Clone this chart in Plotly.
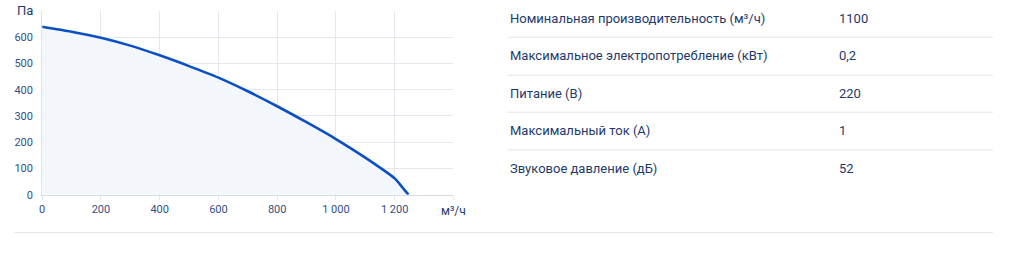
import plotly.graph_objects as go

# Curve data (flow m³/h vs pressure Pa)
flow = [0, 100, 200, 300, 400, 500, 600, 700, 800, 900, 1000, 1100, 1200, 1225, 1247]
pressure = [640, 621, 598, 568, 531, 490, 446, 394, 337, 276, 212, 141, 62, 30, 0]

x_tickvals = [0, 200, 400, 600, 800, 1000, 1200, 1400]
x_ticktext = ["0", "200", "400", "600", "800", "1 000", "1 200", ""]
y_tickvals = [0, 100, 200, 300, 400, 500, 600, 700]
y_ticktext = ["0", "100", "200", "300", "400", "500", "600", ""]
x_unit = "м³/ч"
y_unit = "Па"

spec_labels = [
    "Номинальная производительность (м³/ч)",
    "Максимальное электропотребление (кВт)",
    "Питание (В)",
    "Максимальный ток (А)",
    "Звуковое давление (дБ)",
]
spec_values = ["1100", "0,2", "220", "1", "52"]

W, H = 1020, 262
TEXT = "#1e3a6b"
TICK = "#34507f"
GRID = "#e7e8ee"

def px_x(p):
    return p / W

def px_y(p):
    return 1 - p / H

fig = go.Figure()
fig.add_trace(go.Scatter(
    x=flow, y=pressure, mode="lines",
    line=dict(color="#0b4fc6", width=2.6, shape="spline", smoothing=0.7),
    fill="tozeroy", fillcolor="#f3f6fb",
    hoverinfo="skip", showlegend=False,
))

fig.update_layout(
    width=W, height=H,
    margin=dict(l=0, r=0, t=0, b=0),
    paper_bgcolor="white", plot_bgcolor="white",
    font=dict(family="Roboto", color=TEXT),
    xaxis=dict(
        domain=[px_x(39.3), px_x(451.7)], range=[0, 1400],
        tickvals=x_tickvals, ticktext=x_ticktext,
        showgrid=True, gridcolor=GRID, gridwidth=1,
        zeroline=False, showline=True, linecolor="#d9dbe3", linewidth=1,
        ticks="outside", ticklen=4, tickcolor=GRID,
        tickfont=dict(size=11, color=TICK, family="Roboto"),
        fixedrange=True,
    ),
    yaxis=dict(
        domain=[px_y(200), px_y(11.3)], range=[0, 700],
        tickvals=y_tickvals, ticktext=y_ticktext,
        showgrid=True, gridcolor=GRID, gridwidth=1,
        zeroline=False, showline=True, linecolor="#dfe1e8", linewidth=1,
        ticks="", ticklabelstandoff=6,
        tickfont=dict(size=11, color=TICK, family="Roboto"),
        fixedrange=True,
    ),
)

annotations = []
annotations.append(dict(
    text=y_unit, xref="paper", yref="paper", x=px_x(32), y=px_y(11),
    xanchor="right", yanchor="middle", showarrow=False,
    font=dict(size=13, color=TEXT, family="Roboto"),
))
annotations.append(dict(
    text=x_unit, xref="paper", yref="paper", x=px_x(451.5), y=px_y(216.5),
    xanchor="center", yanchor="middle", showarrow=False,
    font=dict(size=12, color=TEXT, family="Roboto"),
))

shapes = []
row_y = [19, 57.3, 95.7, 134.5, 172.7]
sep_y = [38.3, 77.3, 115.3, 154]
for lab, val, yy in zip(spec_labels, spec_values, row_y):
    annotations.append(dict(
        text=lab, xref="paper", yref="paper", x=px_x(506), y=px_y(yy),
        xanchor="left", yanchor="middle", showarrow=False,
        font=dict(size=13, color=TEXT, family="Roboto"),
    ))
    annotations.append(dict(
        text=val, xref="paper", yref="paper", x=px_x(836), y=px_y(yy),
        xanchor="left", yanchor="middle", showarrow=False,
        font=dict(size=13, color=TEXT, family="Roboto"),
    ))
for sy in sep_y:
    shapes.append(dict(type="line", xref="paper", yref="paper",
                       x0=px_x(506), x1=px_x(993), y0=px_y(sy), y1=px_y(sy),
                       line=dict(color="#e1e5ec", width=1)))
shapes.append(dict(type="line", xref="paper", yref="paper",
                   x0=px_x(11), x1=px_x(993), y0=px_y(239), y1=px_y(239),
                   line=dict(color="#e1e5ec", width=1)))

fig.update_layout(annotations=annotations, shapes=shapes)
fig.write_html("out.html")
